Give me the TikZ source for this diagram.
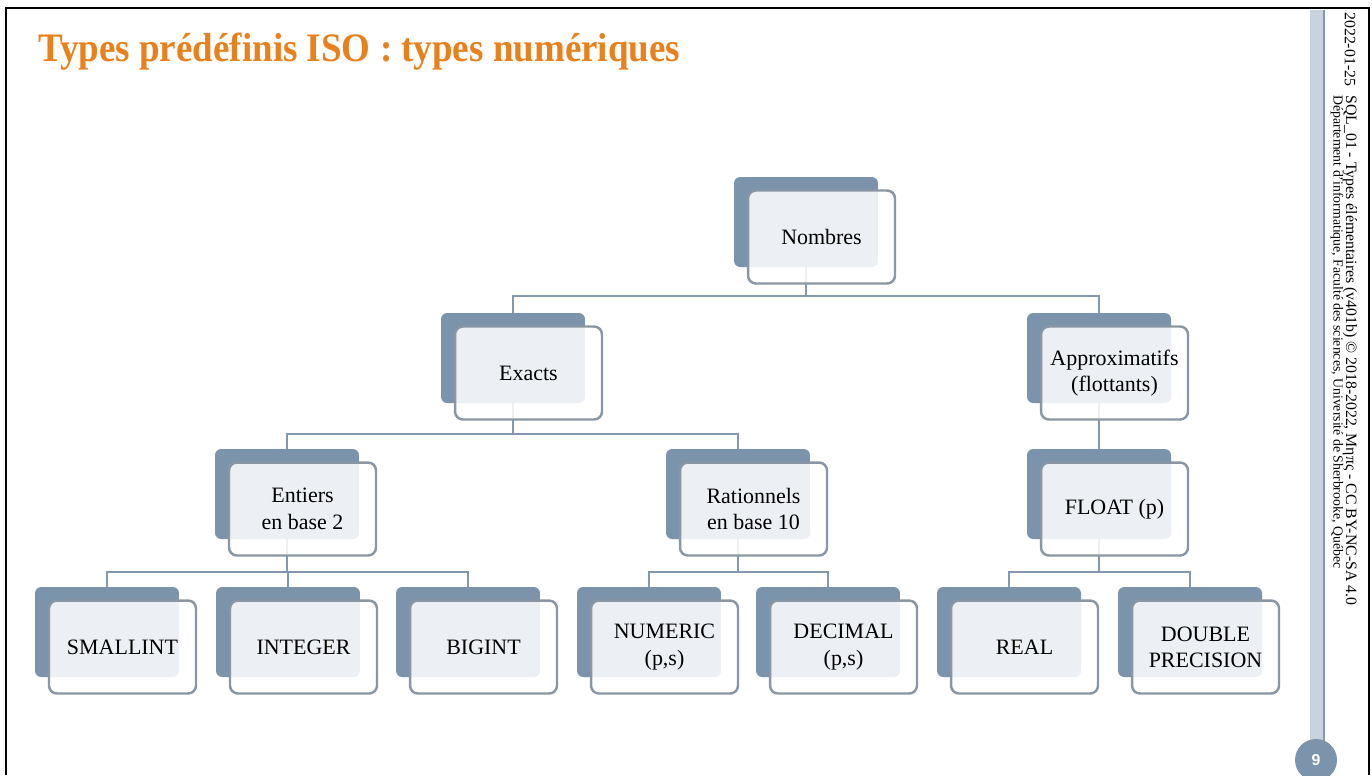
\documentclass[tikz,border=0pt]{standalone}
\usepackage{fontspec}
\setmainfont{Liberation Serif}
\setsansfont{Liberation Sans}

\definecolor{slideorange}{HTML}{E8801C}
\definecolor{boxblue}{HTML}{7B93AB}
\definecolor{linkblue}{HTML}{8398AC}
\definecolor{edgegray}{HTML}{8A96A3}
\definecolor{bandblue}{HTML}{C9D3DF}

\begin{document}
\begin{tikzpicture}[x=0.02cm,y=-0.02cm,
    back/.style={rectangle,rounded corners=3.5pt,fill=boxblue,inner sep=0pt,
        minimum width=2.88cm,minimum height=1.8cm},
    front/.style={rectangle,rounded corners=4.5pt,draw=edgegray,line width=1.4pt,
        fill=white,fill opacity=0.86,text opacity=1,align=center,
        minimum width=2.94cm,minimum height=1.86cm,
        font=\fontsize{12.5}{15}\selectfont},
    link/.style={draw=linkblue,line width=1.3pt}]
    \useasboundingbox (0,0) rectangle (1372,775);

    % slide frame and side band
    \draw[line width=1.2pt] (6,775) -- (6,8) -- (1369,8) -- (1369,775);
    \fill[bandblue] (1310,10) rectangle (1324,745);
    \draw[linkblue,line width=0.8pt] (1324,10) -- (1324,745);
    \node[circle,fill=boxblue,minimum size=0.84cm,inner sep=0pt,text=white,
        font=\sffamily\bfseries\fontsize{9}{10}\selectfont] (pagenum) at (1316,760) {9};

    % title
    \node[anchor=base west,inner sep=0pt,text=slideorange,font=\bfseries] (title) at (38,61)
        {\resizebox{12.84cm}{0.57cm}{Types prédéfinis ISO : types numériques}};

    % footer, rotated
    \node[rotate=-90,anchor=west,inner sep=0pt,font=\fontsize{9}{11}\selectfont] (date) at (1350,12) {2022-01-25};
    \node[rotate=-90,anchor=west,inner sep=0pt,font=\fontsize{9}{11}\selectfont] (course) at (1350,95)
        {SQL\_01 - Types élémentaires (v401b) © 2018-2022, Mηπς - CC BY-NC-SA 4.0};
    \node[rotate=-90,anchor=west,inner sep=0pt,font=\fontsize{7.85}{8}\selectfont] (dept) at (1337,95)
        {Département d'informatique, Faculté des sciences, Université de Sherbrooke, Québec};

    % back boxes
    \node[back] (nombres) at (806,222) {};
    \node[back] (exacts) at (513,358) {};
    \node[back] (approx) at (1099,358) {};
    \node[back] (entiers) at (287,494) {};
    \node[back] (rationnels) at (738,494) {};
    \node[back] (float) at (1099,494) {};
    \node[back] (smallint) at (107,632) {};
    \node[back] (integer) at (288,632) {};
    \node[back] (bigint) at (468,632) {};
    \node[back] (numeric) at (649,632) {};
    \node[back] (decimal) at (828,632) {};
    \node[back] (real) at (1009,632) {};
    \node[back] (double) at (1190,632) {};

    % connectors
    \coordinate (bar1) at (0,296);
    \coordinate (bar2) at (0,434);
    \coordinate (bar3) at (0,572);
    \draw[link] (nombres.south) -- (nombres.south |- bar1) -| (exacts.north);
    \draw[link] (nombres.south |- bar1) -| (approx.north);
    \draw[link] (exacts.south) -- (exacts.south |- bar2) -| (entiers.north);
    \draw[link] (exacts.south |- bar2) -| (rationnels.north);
    \draw[link] (approx.south) -- (float.north);
    \draw[link] (entiers.south) -- (entiers.south |- bar3) -| (smallint.north);
    \draw[link] (entiers.south |- bar3) -| (integer.north);
    \draw[link] (entiers.south |- bar3) -| (bigint.north);
    \draw[link] (rationnels.south) -- (rationnels.south |- bar3) -| (numeric.north);
    \draw[link] (rationnels.south |- bar3) -| (decimal.north);
    \draw[link] (float.south) -- (float.south |- bar3) -| (real.north);
    \draw[link] (float.south |- bar3) -| (double.north);

    % front boxes
    \node[front] (nombres-f) at ([shift={(15.5,15)}]nombres.center) {Nombres};
    \node[front] (exacts-f) at ([shift={(15.5,15)}]exacts.center) {Exacts};
    \node[front] (approx-f) at ([shift={(15.5,15)}]approx.center) {Approximatifs\\(flottants)};
    \node[front] (entiers-f) at ([shift={(15.5,15)}]entiers.center) {Entiers\\en base 2};
    \node[front] (rationnels-f) at ([shift={(15.5,15)}]rationnels.center) {Rationnels\\en base 10};
    \node[front] (float-f) at ([shift={(15.5,15)}]float.center) {FLOAT (p)};
    \node[front] (smallint-f) at ([shift={(15.5,15)}]smallint.center) {SMALLINT};
    \node[front] (integer-f) at ([shift={(15.5,15)}]integer.center) {INTEGER};
    \node[front] (bigint-f) at ([shift={(15.5,15)}]bigint.center) {BIGINT};
    \node[front] (numeric-f) at ([shift={(15.5,15)}]numeric.center) {NUMERIC\\(p,s)};
    \node[front] (decimal-f) at ([shift={(15.5,15)}]decimal.center) {DECIMAL\\(p,s)};
    \node[front] (real-f) at ([shift={(15.5,15)}]real.center) {REAL};
    \node[front] (double-f) at ([shift={(15.5,15)}]double.center) {DOUBLE\\PRECISION};
\end{tikzpicture}
\end{document}
